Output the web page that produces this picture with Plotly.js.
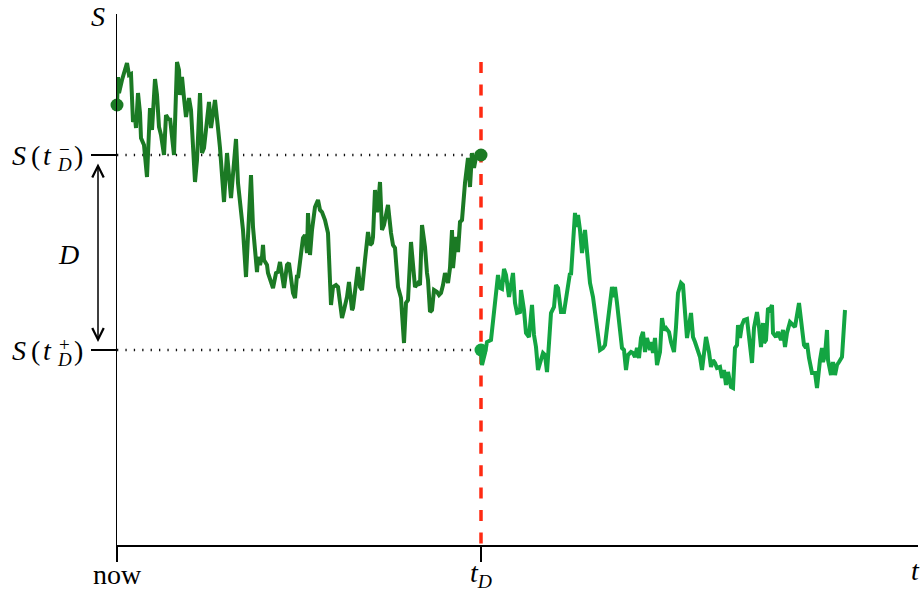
<!DOCTYPE html>
<html>
<head>
<meta charset="utf-8">
<script src="https://cdn.plot.ly/plotly-3.0.1.min.js"></script>
<style>html,body{margin:0;padding:0;background:#fff;}#chart{width:921px;height:593px;}</style>
</head>
<body>
<div id="chart"></div>
<script>
// time (arbitrary units, "now" = 0) and share price S (arbitrary units)
const tD = 364;
const S_minus = 390;   // S(t_D^-)
const S_plus = 195;    // S(t_D^+)

const tPre = [0,1,2,5,10,12,14,16,18,19,21,23,24,27,30,33,35,38,40,42,44,47,49,52,53,57,60,62,63,65,67,69,72,74,78,80,83,85,87,90,92,94,98,101,103,107,110,114,117,119,121,125,126,129,131,134,136,139,140,141,143,145,146,147,150,151,156,159,161,163,165,167,170,172,174,176,178,180,181,183,185,186,188,190,191,193,195,198,201,203,205,208,211,213,214,216,219,221,223,225,227,230,232,235,236,239,241,243,245,248,251,253,255,256,258,260,261,263,265,267,270,271,274,276,278,281,284,286,287,289,291,294,296,298,301,303,305,308,310,311,313,315,317,320,322,324,326,328,331,333,335,336,339,341,343,345,348,350,351,353,355,357,360,361,364];
const sPre = [440,468,452,465,482,470,471,423,428,417,452,432,407,400,368,437,415,466,450,418,410,390,430,425,427,390,483,475,450,468,447,428,447,435,363,385,452,392,397,430,443,417,445,417,397,343,392,347,385,406,362,323,315,268,312,370,318,285,273,288,280,288,300,285,280,272,257,272,273,283,267,257,280,282,267,252,247,270,267,285,303,307,310,292,332,290,315,338,345,335,333,325,312,268,240,258,260,258,238,227,235,248,263,235,237,262,278,258,255,285,313,300,302,308,355,333,338,363,315,320,335,340,312,300,297,258,247,218,202,242,245,303,282,258,262,260,320,298,272,265,233,235,255,253,250,252,260,272,262,277,315,277,308,293,323,325,362,385,387,358,392,377,393,390,390];

const tPost = [364,365,368,370,374,378,381,383,385,387,389,392,394,396,398,400,403,404,407,409,412,415,417,419,421,424,426,428,430,432,434,437,439,441,444,447,451,453,454,458,459,461,463,465,468,470,473,476,478,481,483,486,488,491,494,495,497,498,500,503,505,507,509,511,514,516,518,520,522,524,526,528,530,533,534,536,538,540,543,545,547,549,552,554,557,559,561,564,566,568,570,574,576,578,581,583,585,588,589,592,594,596,598,600,603,605,607,609,611,614,616,618,620,621,623,625,627,630,632,635,637,640,642,644,646,647,649,651,653,655,656,659,661,664,666,668,670,673,676,678,682,685,687,689,690,692,695,698,700,703,705,706,708,710,711,714,716,718,720,722,725,728];
const sPost = [195,180,192,203,205,242,270,257,256,276,270,248,262,272,242,232,233,255,235,212,208,240,210,198,175,185,192,190,173,202,232,238,260,257,233,233,262,272,270,332,318,330,315,292,315,290,262,248,232,208,195,197,200,225,252,258,248,258,242,218,197,195,175,190,193,192,188,197,187,207,213,193,207,195,203,192,207,180,193,227,215,217,213,203,193,218,252,262,260,233,207,232,208,203,195,188,175,207,208,193,178,185,182,177,178,167,175,160,173,158,157,197,200,220,207,220,225,226,205,182,217,233,218,198,222,202,205,237,235,240,212,208,213,205,215,198,212,223,220,218,242,212,200,197,202,187,172,172,157,185,197,183,190,215,185,170,183,170,180,183,188,235];

const xTickVals = [0, tD];
const xTickText = ['now', '<i>t</i><sub><i>D</i></sub>'];
const yTickVals = [S_minus, S_plus];
const yTickSigns = ['\u2212', '+'];
const yAxisLabel = 'S';
const xAxisLabel = 't';
const gapLabel = 'D';

const darkGreen = '#1b7a24';
const lightGreen = '#13a542';
const red = '#ff2a12';
const FONT = '"Liberation Serif", "Times New Roman", serif';

const traces = [
  {x: tPre, y: sPre, mode: 'lines', line: {color: darkGreen, width: 4}, hoverinfo: 'skip'},
  {x: tPost, y: sPost, mode: 'lines', line: {color: lightGreen, width: 4}, hoverinfo: 'skip'},
  {x: [tPre[0], tPre[tPre.length-1]], y: [sPre[0], sPre[sPre.length-1]], mode: 'markers',
   marker: {color: darkGreen, size: 13}, cliponaxis: false, hoverinfo: 'skip'},
  {x: [tPost[0]], y: [sPost[0]], mode: 'markers',
   marker: {color: lightGreen, size: 13}, cliponaxis: false, hoverinfo: 'skip'}
];

const shapes = [
  {type: 'line', xref: 'x', yref: 'y', x0: 0, x1: tD, y0: S_minus, y1: S_minus, layer: 'below',
   line: {color: '#111', width: 2.4, dash: '1.3px,7.1px'}},
  {type: 'line', xref: 'x', yref: 'y', x0: 0, x1: tD, y0: S_plus, y1: S_plus, layer: 'below',
   line: {color: '#111', width: 2.4, dash: '1.3px,7.1px'}},
  {type: 'line', xref: 'x', yref: 'y', x0: tD, x1: tD, y0: 483, y1: 0, layer: 'below',
   line: {color: red, width: 3.5, dash: '11px,11.4px'}}
];

const annotations = [];
function txt(text, xref, x, xshift, yref, y, size, yshift) {
  annotations.push({text: text, xref: xref, x: x, xshift: xshift, yref: yref, y: y, yshift: yshift || 0,
    xanchor: 'center', yanchor: 'middle', showarrow: false,
    font: {family: FONT, size: size, color: '#000'}});
}
yTickVals.forEach(function (v, i) {
  txt('<i>S</i>', 'paper', 0, -98, 'y', v, 28, 0);
  txt('(', 'paper', 0, -82, 'y', v, 28, 0);
  txt('<i>t</i>', 'paper', 0, -70, 'y', v, 28, 0);
  txt(yTickSigns[i], 'paper', 0, -53, 'y', v, 19, 6);
  txt('<i>D</i>', 'paper', 0, -53, 'y', v, 19, -9);
  txt(')', 'paper', 0, -39, 'y', v, 28, 0);
});
xTickVals.forEach(function (v, i) {
  txt(xTickText[i], 'x', v, 0, 'paper', 0, 28, -29);
});
txt('<i>' + yAxisLabel + '</i>', 'paper', 0, -19, 'paper', 1, 28, -2);
txt('<i>' + gapLabel + '</i>', 'paper', 0, -49, 'y', (S_minus + S_plus) / 2, 28, -2);
txt('<i>' + xAxisLabel + '</i>', 'paper', 0, 798, 'paper', 0, 28, -25);
annotations.push({text: '', xref: 'paper', x: 0, xshift: -19, yref: 'y', y: S_plus + 8,
  axref: 'pixel', ax: 0, ayref: 'y', ay: S_minus - 7, showarrow: true,
  arrowside: 'end+start', arrowhead: 5, arrowsize: 1.5, arrowwidth: 1.5, arrowcolor: '#000',
  standoff: 0, startstandoff: 0});

const layout = {
  width: 921, height: 593,
  margin: {l: 117, r: 3, t: 14, b: 48},
  paper_bgcolor: '#fff', plot_bgcolor: '#fff',
  showlegend: false,
  font: {family: FONT, size: 28, color: '#000'},
  xaxis: {range: [0, 801], showgrid: false, zeroline: false, showline: true, linecolor: '#000', linewidth: 1.5,
    ticks: 'outside', ticklen: 15, tickwidth: 1.5, tickcolor: '#000',
    tickmode: 'array', tickvals: xTickVals, showticklabels: false, fixedrange: true},
  yaxis: {range: [0, 531], showgrid: false, zeroline: false, showline: true, linecolor: '#000', linewidth: 1.5,
    ticks: 'outside', ticklen: 25, tickwidth: 1.5, tickcolor: '#000',
    tickmode: 'array', tickvals: yTickVals, showticklabels: false, fixedrange: true},
  shapes: shapes,
  annotations: annotations
};

Plotly.newPlot('chart', traces, layout, {displayModeBar: false, staticPlot: true});
</script>
</body>
</html>
